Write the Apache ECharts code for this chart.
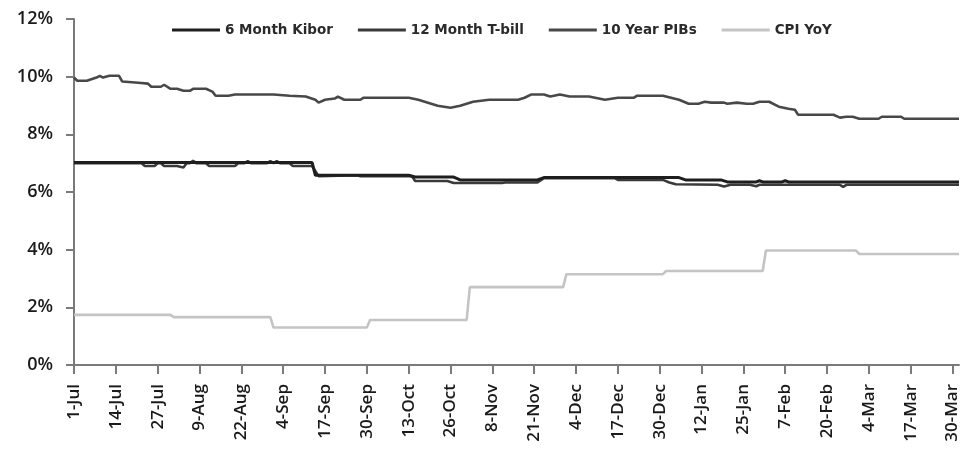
<!DOCTYPE html>
<html>
<head>
<meta charset="utf-8">
<script src="https://cdn.jsdelivr.net/npm/echarts@6/dist/echarts.min.js"></script>
<style>
  html, body { margin: 0; padding: 0; background: #fff; }
  #chart { width: 967px; height: 456px; }
</style>
</head>
<body>
<div id="chart"></div>
<script>
// daily categories, 1-Jul to 1-Apr
const MONTHS = ['Jan', 'Feb', 'Mar', 'Apr', 'May', 'Jun', 'Jul', 'Aug', 'Sep', 'Oct', 'Nov', 'Dec'];
const categories = [];
for (let t = new Date(2015, 6, 1); t <= new Date(2016, 3, 1); t.setDate(t.getDate() + 1)) {
    categories.push(t.getDate() + '-' + MONTHS[t.getMonth()]);
}

const seriesNames = ['6 Month Kibor', '12 Month T-bill', '10 Year PIBs', 'CPI YoY'];

// [day, %]
const kibor6m = [
    ['1-Jul', 7.02], ['13-Sep', 7.02], ['14-Sep', 6.58], ['13-Oct', 6.58], ['15-Oct', 6.52],
    ['27-Oct', 6.52], ['29-Oct', 6.42], ['22-Nov', 6.42], ['24-Nov', 6.5], ['5-Jan', 6.5],
    ['7-Jan', 6.42], ['18-Jan', 6.42], ['20-Jan', 6.35], ['29-Jan', 6.35], ['30-Jan', 6.39],
    ['31-Jan', 6.35], ['6-Feb', 6.35], ['7-Feb', 6.39], ['8-Feb', 6.35], ['1-Apr', 6.35]
];

const tbill12m = [
    ['1-Jul', 7.0], ['22-Jul', 7.0], ['23-Jul', 6.9], ['26-Jul', 6.9], ['27-Jul', 7.0],
    ['28-Jul', 7.0], ['29-Jul', 6.9], ['2-Aug', 6.9], ['4-Aug', 6.85], ['5-Aug', 7.0],
    ['6-Aug', 7.0], ['7-Aug', 7.08], ['8-Aug', 7.0], ['11-Aug', 7.0], ['12-Aug', 6.9],
    ['20-Aug', 6.9], ['21-Aug', 7.0], ['23-Aug', 7.0], ['24-Aug', 7.07], ['25-Aug', 7.0],
    ['30-Aug', 7.0], ['31-Aug', 7.07], ['1-Sep', 7.0], ['2-Sep', 7.07], ['3-Sep', 7.0],
    ['6-Sep', 7.0], ['7-Sep', 6.9], ['13-Sep', 6.9], ['15-Sep', 6.55], ['27-Sep', 6.58],
    ['28-Sep', 6.55], ['14-Oct', 6.55], ['15-Oct', 6.38], ['25-Oct', 6.38], ['27-Oct', 6.31],
    ['11-Nov', 6.31], ['12-Nov', 6.33], ['22-Nov', 6.33], ['24-Nov', 6.48], ['16-Dec', 6.48],
    ['17-Dec', 6.42], ['31-Dec', 6.42], ['2-Jan', 6.33], ['4-Jan', 6.27], ['17-Jan', 6.25],
    ['19-Jan', 6.19], ['21-Jan', 6.25], ['27-Jan', 6.25], ['29-Jan', 6.2], ['30-Jan', 6.25],
    ['10-Feb', 6.25], ['24-Feb', 6.25], ['25-Feb', 6.18], ['26-Feb', 6.25], ['1-Apr', 6.25]
];

const pib10y = [
    ['1-Jul', 9.97], ['2-Jul', 9.86], ['5-Jul', 9.86], ['8-Jul', 9.97], ['9-Jul', 10.03],
    ['10-Jul', 9.97], ['12-Jul', 10.03], ['15-Jul', 10.03], ['16-Jul', 9.83], ['21-Jul', 9.79],
    ['24-Jul', 9.76], ['25-Jul', 9.65], ['28-Jul', 9.65], ['29-Jul', 9.72], ['31-Jul', 9.58],
    ['2-Aug', 9.58], ['4-Aug', 9.51], ['6-Aug', 9.51], ['7-Aug', 9.58], ['11-Aug', 9.58],
    ['13-Aug', 9.48], ['14-Aug', 9.34], ['18-Aug', 9.34], ['20-Aug', 9.38], ['1-Sep', 9.38],
    ['6-Sep', 9.34], ['11-Sep', 9.31], ['14-Sep', 9.2], ['15-Sep', 9.1], ['17-Sep', 9.2],
    ['20-Sep', 9.24], ['21-Sep', 9.31], ['23-Sep', 9.2], ['28-Sep', 9.2], ['29-Sep', 9.27],
    ['13-Oct', 9.27], ['16-Oct', 9.2], ['18-Oct', 9.13], ['22-Oct', 8.99], ['26-Oct', 8.92],
    ['29-Oct', 8.99], ['2-Nov', 9.13], ['7-Nov', 9.2], ['16-Nov', 9.2], ['18-Nov', 9.27],
    ['20-Nov', 9.38], ['24-Nov', 9.38], ['26-Nov', 9.31], ['29-Nov', 9.38], ['2-Dec', 9.31],
    ['8-Dec', 9.31], ['13-Dec', 9.2], ['17-Dec', 9.27], ['22-Dec', 9.27], ['23-Dec', 9.34],
    ['31-Dec', 9.34], ['5-Jan', 9.2], ['8-Jan', 9.06], ['11-Jan', 9.06], ['13-Jan', 9.13],
    ['15-Jan', 9.1], ['19-Jan', 9.1], ['20-Jan', 9.06], ['23-Jan', 9.1], ['26-Jan', 9.06],
    ['28-Jan', 9.06], ['30-Jan', 9.13], ['2-Feb', 9.13], ['5-Feb', 8.96], ['8-Feb', 8.89],
    ['10-Feb', 8.85], ['11-Feb', 8.68], ['22-Feb', 8.68], ['24-Feb', 8.58], ['26-Feb', 8.61],
    ['28-Feb', 8.61], ['1-Mar', 8.54], ['7-Mar', 8.54], ['8-Mar', 8.61], ['14-Mar', 8.61],
    ['15-Mar', 8.54], ['1-Apr', 8.54]
];

const cpiYoY = [
    ['1-Jul', 1.74], ['31-Jul', 1.74], ['1-Aug', 1.66], ['31-Aug', 1.66], ['1-Sep', 1.30],
    ['30-Sep', 1.30], ['1-Oct', 1.56], ['31-Oct', 1.56], ['1-Nov', 2.70], ['30-Nov', 2.70],
    ['1-Dec', 3.15], ['31-Dec', 3.15], ['1-Jan', 3.26], ['31-Jan', 3.26], ['1-Feb', 3.97],
    ['29-Feb', 3.97], ['1-Mar', 3.85], ['1-Apr', 3.85]
];

const yTicks = [0, 2, 4, 6, 8, 10, 12];

const colors = ['#1e1e1e', '#3a3a3a', '#484848', '#c4c4c4'];
const dataList = [kibor6m, tbill12m, pib10y, cpiYoY];

const chart = echarts.init(document.getElementById('chart'));

const series = seriesNames.map((name, i) => ({
    name: name,
    type: 'line',
    data: dataList[i],
    symbol: 'none',
    z: 10 - i,
    lineStyle: { color: colors[i], width: i === 0 ? 3 : 2.6 },
    itemStyle: { color: colors[i] }
}));

const option = {
    animation: false,
    backgroundColor: '#fff',
    color: colors,
    grid: { left: 74, right: 8, top: 19, bottom: 91 },
    legend: {
        left: 167,
        top: 18,
        icon: 'rect',
        itemWidth: 48,
        itemHeight: 3,
        itemGap: 25,
        textStyle: { fontFamily: 'DejaVu Sans', fontSize: 13.5, fontWeight: 'bold', color: '#2a2a2a' },
        data: seriesNames
    },
    xAxis: {
        type: 'category',
        data: categories,
        boundaryGap: false,
        axisLine: { lineStyle: { color: '#7a7a7a', width: 2 } },
        axisTick: { show: true, interval: 12, length: 9, lineStyle: { color: '#7a7a7a', width: 2 } },
        axisLabel: {
            interval: 12,
            rotate: 90,
            margin: 19,
            color: '#1a1a1a',
            fontFamily: 'Open Sans',
            fontWeight: 600,
            fontSize: 17
        },
        splitLine: { show: false }
    },
    yAxis: {
        type: 'value',
        min: yTicks[0],
        max: yTicks[yTicks.length - 1],
        interval: 2,
        axisLine: { show: true, lineStyle: { color: '#7a7a7a', width: 2 } },
        axisTick: { show: true, length: 8, lineStyle: { color: '#7a7a7a', width: 2 } },
        axisLabel: {
            margin: 21,
            color: '#1a1a1a',
            fontFamily: 'Open Sans',
            fontWeight: 600,
            fontSize: 18,
            formatter: '{value}%'
        },
        splitLine: { show: false }
    },
    series: series
};

chart.setOption(option);
</script>
</body>
</html>
